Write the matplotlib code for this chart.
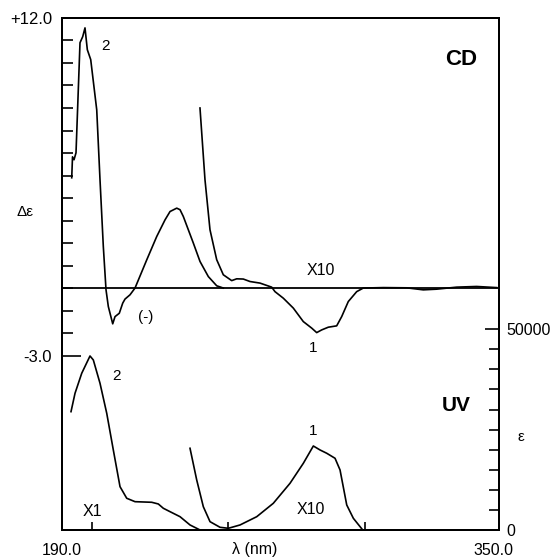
import numpy as np
import matplotlib
matplotlib.use('Agg')
import matplotlib.pyplot as plt
from matplotlib.ticker import FixedLocator, FixedFormatter

plt.rcParams['font.family'] = ['Liberation Sans', 'DejaVu Sans']

# CD spectrum, band 2 (shown x1), wavelength in nm and delta-epsilon
cd2_nm = [193.66, 193.95, 194.50, 195.23, 196.69, 197.68, 198.52, 199.37, 200.61,
          202.81, 204.01, 205.22, 206.21, 207.05, 208.66, 209.50, 211.07, 212.32,
          213.16, 214.99, 216.82, 221.10, 224.76, 227.80, 229.63, 232.08, 233.29,
          234.49, 236.32, 238.15, 240.60, 243.64, 246.71, 249.13]
cd2_de = [4.90, 5.83, 5.70, 6.01, 10.90, 11.17, 11.56, 10.59, 10.15,
          7.92, 4.81, 1.85, -0.08, -0.82, -1.59, -1.27, -1.12, -0.67,
          -0.49, -0.30, 0.00, 1.25, 2.29, 3.03, 3.40, 3.55, 3.48,
          3.18, 2.59, 2.00, 1.18, 0.51, 0.10, 0.00]

# CD spectrum, band 1 (shown x10)
cd1_nm = [240.59, 242.42, 244.25, 246.70, 249.12, 252.19, 254.02, 256.44, 258.89,
          262.54, 266.82, 268.03, 271.07, 274.73, 278.39, 281.46, 283.29, 285.12,
          287.53, 290.60, 292.43, 294.85, 297.92, 300.33, 307.65, 316.21, 322.28,
          327.18, 334.50, 341.82, 349.13]
cd1_de = [8.00, 4.81, 2.59, 1.26, 0.59, 0.33, 0.41, 0.40, 0.29,
          0.22, 0.04, -0.16, -0.45, -0.89, -1.49, -1.78, -1.98, -1.86,
          -1.74, -1.68, -1.27, -0.60, -0.16, 0.00, 0.02, 0.01, -0.08,
          -0.05, 0.04, 0.07, 0.02]

# UV spectrum, band 2 (x1), epsilon
uv2_nm = [193.40, 194.87, 197.32, 200.35, 201.56, 204.01, 206.47, 208.88, 211.33,
          213.78, 216.82, 222.93, 225.34, 227.17, 229.63, 233.29, 236.94, 240.60]
uv2_eps = [29470, 34050, 39030, 43340, 42350, 36540, 29070, 19930, 10790,
           7900, 7050, 6900, 6480, 5410, 4560, 3310, 1250, 0]

# UV spectrum, band 1 (x10)
uv1_nm = [236.94, 239.39, 241.81, 244.26, 247.92, 250.96, 255.24, 261.35, 267.42,
          273.53, 278.40, 282.06, 284.51, 286.96, 290.00, 291.83, 294.28, 296.70, 300.13]
uv1_eps = [20350, 12460, 5800, 2070, 670, 420, 1250, 3310, 6650,
           11630, 16610, 20920, 19930, 19110, 17860, 14950, 6230, 2910, 0]

cd_ticks = np.arange(-3, 13, 1)
cd_labels = ['-3.0', '+12.0']
eps_ticks = np.arange(0, 50001, 5000)
eps_labels = ['0', '50000']
x_ticks = [201, 251, 301]
x_labels = ['190.0', '350.0']

fig = plt.figure(figsize=(5.53, 5.60), dpi=100)
ax = fig.add_axes([0.1116, 0.0536, 0.7908, 0.9143])
ax.set_xlim(190, 350)
ax.set_ylim(-10.75, 12)

lw = 1.2
ax.axhline(0, color='black', lw=1.3)
ax.plot(cd2_nm, cd2_de, color='black', lw=lw)
ax.plot(cd1_nm, cd1_de, color='black', lw=lw)

ax2 = ax.twinx()
ax2.set_ylim(0, 22.75 * 50000 / (10.75 - 1.83))
ax2.plot(uv2_nm, uv2_eps, color='black', lw=lw)
ax2.plot(uv1_nm, uv1_eps, color='black', lw=lw)

for a in (ax, ax2):
    for s in a.spines.values():
        s.set_linewidth(1.4)

# left axis: delta epsilon
ax.yaxis.set_major_locator(FixedLocator([-3, 12]))
ax.yaxis.set_major_formatter(FixedFormatter(cd_labels))
ax.yaxis.set_minor_locator(FixedLocator([t for t in cd_ticks if t not in (-3, 12)]))
ax.tick_params(axis='y', which='major', direction='in', length=14, width=1.2,
               pad=7, labelsize=12)
ax.tick_params(axis='y', which='minor', direction='in', length=8, width=1.2)

# bottom axis: wavelength (end labels sit a little inside the frame corner)
ax.xaxis.set_major_locator(FixedLocator([190, 348]))
ax.xaxis.set_major_formatter(FixedFormatter(x_labels))
ax.xaxis.set_minor_locator(FixedLocator(x_ticks))
ax.tick_params(axis='x', which='major', length=0, pad=9.5, labelsize=11.5)
ax.tick_params(axis='x', which='minor', direction='in', length=6, width=1.2)
ax.set_xlabel('λ (nm)', fontsize=11.5)
ax.xaxis.set_label_coords(0.442, -0.039)
ax.xaxis.label.set_va('center')

ax.set_ylabel('Δε', fontsize=11, rotation=0)
ax.yaxis.set_label_coords(-0.0846, 0.6217)
ax.yaxis.label.set_va('center')

# right axis: epsilon
ax2.yaxis.set_major_locator(FixedLocator([0, 50000]))
ax2.yaxis.set_major_formatter(FixedFormatter(eps_labels))
ax2.yaxis.set_minor_locator(FixedLocator([t for t in eps_ticks if t not in (0, 50000)]))
ax2.tick_params(axis='y', which='major', direction='in', length=10, width=1.2,
                pad=5, labelsize=11.5)
ax2.tick_params(axis='y', which='minor', direction='in', length=7, width=1.2)
ax2.set_ylabel('ε', fontsize=11, rotation=0)
ax2.yaxis.set_label_coords(1.050, 0.1822)
ax2.yaxis.label.set_va('center')
ax2.yaxis.label.set_ha('center')

# annotations
ax.text(336.1, 10.15, 'CD', fontsize=16, fontweight='bold', ha='center', va='center')
ax.text(334.3, -5.24, 'UV', fontsize=15, fontweight='bold', ha='center', va='center')
ax.text(206.2, 10.74, '2', fontsize=11, ha='center', va='center')
ax.text(220.8, -1.28, '(-)', fontsize=11, ha='center', va='center')
ax.text(284.9, 0.76, 'X10', fontsize=11.5, ha='center', va='center')
ax.text(281.9, -2.66, '1', fontsize=11, ha='center', va='center')
ax.text(210.2, -3.90, '2', fontsize=11, ha='center', va='center')
ax.text(281.9, -6.37, '1', fontsize=11, ha='center', va='center')
ax.text(201.3, -9.91, 'X1', fontsize=11.5, ha='center', va='center')
ax.text(281.2, -9.82, 'X10', fontsize=11.5, ha='center', va='center')

fig.savefig('out.png', dpi=100)
plt.close(fig)
